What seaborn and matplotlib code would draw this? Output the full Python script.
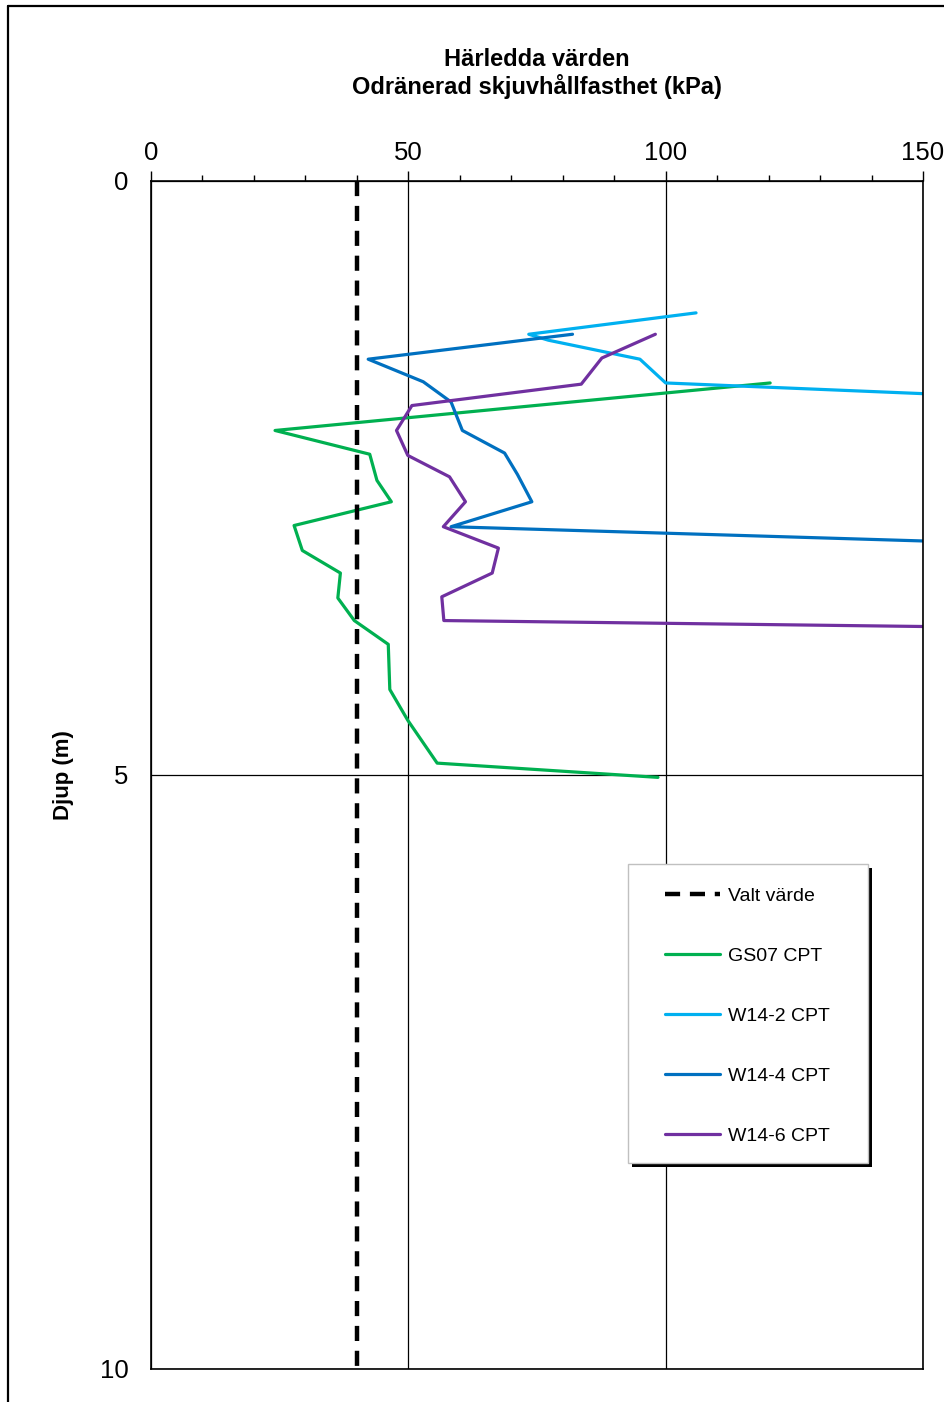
import numpy as np
import pandas as pd
import matplotlib
matplotlib.use("Agg")
import matplotlib.pyplot as plt
import seaborn as sns
from matplotlib.lines import Line2D
from matplotlib.patches import Rectangle

# odränerad skjuvhållfasthet (kPa) mot djup (m)
gs07_su = [120.3, 24.1, 42.5, 43.9, 46.7, 27.8, 29.4, 36.8, 36.3, 39.5, 46.1, 46.4, 49.9, 55.6, 98.5]
gs07_z = [1.70, 2.10, 2.30, 2.52, 2.70, 2.90, 3.11, 3.30, 3.51, 3.70, 3.90, 4.28, 4.54, 4.90, 5.02]

w142_su = [105.9, 73.4, 77.2, 95.0, 100.0, 150.0]
w142_z = [1.11, 1.29, 1.34, 1.50, 1.70, 1.79]

w144_su = [81.9, 42.2, 52.9, 58.3, 60.5, 68.7, 71.2, 74.0, 58.3, 150.0]
w144_z = [1.29, 1.50, 1.69, 1.86, 2.10, 2.29, 2.47, 2.70, 2.91, 3.03]

w146_su = [98.0, 87.6, 83.6, 50.7, 47.7, 49.9, 58.0, 61.1, 56.8, 67.5, 66.3, 56.5, 56.9, 150.0]
w146_z = [1.29, 1.49, 1.71, 1.89, 2.10, 2.31, 2.49, 2.70, 2.91, 3.09, 3.30, 3.50, 3.70, 3.75]

valt_su = [40, 40]
valt_z = [0, 10]

serier = ["GS07 CPT", "W14-2 CPT", "W14-4 CPT", "W14-6 CPT"]
farger = ["#00B050", "#00B0F0", "#0070C0", "#7030A0"]

df = pd.concat([
    pd.DataFrame({"su": gs07_su, "djup": gs07_z, "serie": serier[0]}),
    pd.DataFrame({"su": w142_su, "djup": w142_z, "serie": serier[1]}),
    pd.DataFrame({"su": w144_su, "djup": w144_z, "serie": serier[2]}),
    pd.DataFrame({"su": w146_su, "djup": w146_z, "serie": serier[3]}),
], ignore_index=True)

sns.set_style("white")
plt.rcParams["font.family"] = ["Liberation Sans", "DejaVu Sans"]
plt.rcParams["text.color"] = "black"
plt.rcParams["axes.labelcolor"] = "black"
plt.rcParams["xtick.color"] = "black"
plt.rcParams["ytick.color"] = "black"

fig = plt.figure(figsize=(9.44, 14.02), dpi=100)
ax = fig.add_axes([151 / 944, 1 - 1369 / 1402, (923 - 151) / 944, (1369 - 181) / 1402])

# ram runt figuren (bara vänster och övre kant syns)
fig.add_artist(Line2D([8 / 944, 8 / 944], [0, 1 - 6 / 1402], color="black", lw=1.6, transform=fig.transFigure))
fig.add_artist(Line2D([8 / 944, 1], [1 - 6 / 1402, 1 - 6 / 1402], color="black", lw=1.6, transform=fig.transFigure))

for s, c in zip(serier, farger):
    sns.lineplot(data=df[df["serie"] == s], x="su", y="djup", sort=False, estimator=None,
                 color=c, lw=2.3, ax=ax, label=s)

sns.lineplot(x=valt_su, y=valt_z, sort=False, estimator=None, color="black", lw=3.2,
             dashes=False, ax=ax, label="Valt värde", zorder=5)
ax.lines[-1].set_dashes((3.4, 2.2))

ax.set_xlim(0, 150)
ax.set_ylim(10, 0)
ax.set_xticks([0, 50, 100, 150])
ax.set_xticks(np.arange(0, 151, 10), minor=True)
ax.set_yticks([0, 5, 10])
ax.set_yticks(np.arange(0, 11, 1), minor=True)
ax.xaxis.tick_top()
ax.xaxis.set_label_position("top")
ax.tick_params(axis="x", which="major", direction="out", length=7, width=1, labelsize=18.5, pad=4.5)
ax.tick_params(axis="x", which="minor", direction="out", length=4.3, width=1)
ax.tick_params(axis="y", which="major", direction="out", length=4, width=1, labelsize=18.5, pad=12)
ax.tick_params(axis="y", which="minor", direction="out", length=4, width=1)
ax.grid(True, which="major", color="black", lw=0.9)
for sp in ax.spines.values():
    sp.set_color("black")
    sp.set_linewidth(1.2)

ax.set_xlabel("Härledda värden\nOdränerad skjuvhållfasthet (kPa)", fontsize=17, fontweight="bold",
              linespacing=1.15)
ax.xaxis.set_label_coords(0.5, 1.0736)
ax.set_ylabel("Djup (m)", fontsize=16, fontweight="bold")
ax.yaxis.set_label_coords(-0.100, 0.5)

# legendram med skugga
bx0, bx1 = (628 - 151) / 772, (868 - 151) / 772
by0, by1 = (1369 - 1163) / 1188, (1369 - 864) / 1188
ax.add_patch(Rectangle((bx0 + 4 / 772, by0 - 4 / 1188), bx1 - bx0, by1 - by0, transform=ax.transAxes,
                       facecolor="black", edgecolor="black", lw=0, zorder=6, clip_on=False))
ax.add_patch(Rectangle((bx0, by0), bx1 - bx0, by1 - by0, transform=ax.transAxes,
                       facecolor="white", edgecolor="#c0c0c0", lw=1.0, zorder=6.5, clip_on=False))

h, l = ax.get_legend_handles_labels()
ordning = [4, 0, 1, 2, 3]
leg = ax.legend([h[i] for i in ordning], [l[i] for i in ordning], loc="upper left",
                bbox_to_anchor=((665 - 151) / 772, (1369 - 887) / 1188), borderaxespad=0, borderpad=0,
                fontsize=14, labelspacing=2.18, handlelength=2.83, handletextpad=0.4, frameon=False)
leg.set_zorder(8)

fig.savefig("out.png", dpi=100)
